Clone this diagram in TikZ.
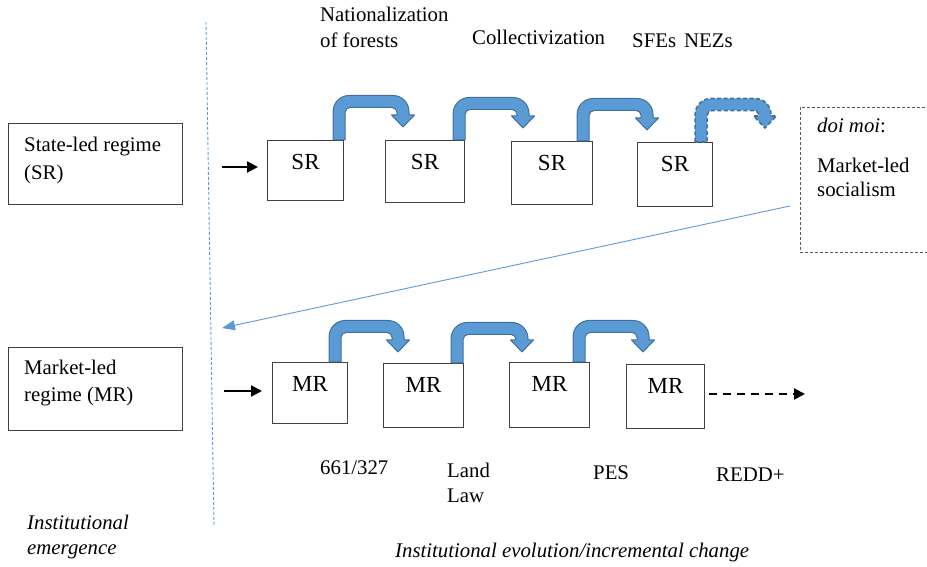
\documentclass[tikz,border=0pt]{standalone}
\usepackage{fontspec}
\setmainfont{Liberation Serif}
\usetikzlibrary{arrows.meta,calc}

\definecolor{arrfill}{HTML}{5B9BD5}
\definecolor{arredge}{HTML}{41719C}
\definecolor{boxline}{HTML}{404040}
\definecolor{dashgray}{HTML}{595959}

\tikzset{
  txt/.style={font=\fontsize{20.8}{25}\selectfont, inner sep=0pt, anchor=base west},
  itxt/.style={txt, font=\fontsize{20.8}{25}\selectfont\itshape},
  regbox/.style={draw=boxline, line width=1.1pt, inner sep=0pt, anchor=north west},
  stagebox/.style={draw=boxline, line width=1.1pt, inner sep=0pt, anchor=north west, fill=white},
  stagelbl/.style={font=\fontsize{23}{27}\selectfont, inner sep=0pt, anchor=base},
  bentarrow/.style={fill=arrfill, draw=arredge, line width=1pt, line join=round},
  bentdashed/.style={dash pattern=on 4pt off 2.5pt, line width=1.6pt},
  pusharrow/.style={-{Triangle[length=11pt,width=11pt]}, line width=2.2pt, draw=black},
  nextarrow/.style={pusharrow, dash pattern=on 8pt off 6pt, line width=2pt},
  feedback/.style={-{Triangle[length=13pt,width=10pt]}, draw=arrfill, line width=0.9pt},
  divider/.style={draw=arrfill, line width=0.9pt, dash pattern=on 3pt off 2pt},
  outerbox/.style={draw=dashgray, line width=0.9pt, dash pattern=on 3pt off 2pt, inner sep=0pt, anchor=north west}
}

% Bent block arrow from the top right of one stage box to just above the next.
% #1 extra style, #2 source node, #3 target point (north west of next box),
% #4 shaft inset from the source's right edge, #5 tip inset from the target's left edge,
% #6 height of the bar above the source top, #7 tip height above the target top.
% Shaft half width 6, outer corner radius 16, inner corner radius 5.
\newcommand{\stagearrow}[7][]{%
  \path[bentarrow,#1] let \p1=(#2.north east), \p2=(#3),
      \n1={\x1-#4}, \n2={\y1+#6}, \n3={\x2+#5}, \n4={\y2+#7}, \n5={\y1} in
    ({\n1-6},{\n5}) -- ({\n1-6},{\n2+6-16})
      .. controls ({\n1-6},{\n2+6-7.2}) and ({\n1-6+7.2},{\n2+6}) .. ({\n1-6+16},{\n2+6})
      -- ({\n3+6-16},{\n2+6})
      .. controls ({\n3+6-7.2},{\n2+6}) and ({\n3+6},{\n2+6-7.2}) .. ({\n3+6},{\n2+6-16})
      -- ({\n3+6},{\n4+12}) -- ({\n3+11.5},{\n4+12}) -- ({\n3},{\n4})
      -- ({\n3-11.5},{\n4+12}) -- ({\n3-6},{\n4+12})
      -- ({\n3-6},{\n2-6-5})
      .. controls ({\n3-6},{\n2-6-2.2}) and ({\n3-6-2.2},{\n2-6}) .. ({\n3-6-5},{\n2-6})
      -- ({\n1+6+5},{\n2-6})
      .. controls ({\n1+6+2.2},{\n2-6}) and ({\n1+6},{\n2-6-2.2}) .. ({\n1+6},{\n2-6-5})
      -- ({\n1+6},{\n5}) -- cycle;%
}

\begin{document}
\begin{tikzpicture}[x=1pt,y=1pt]
\useasboundingbox (0,0) rectangle (927,567);

% divider between emergence and evolution
\coordinate (divtop) at (206,545);
\coordinate (divbot) at (214,40);
\draw[divider] (divtop) -- (divbot);

% regime boxes
\node[regbox, minimum width=174pt, minimum height=81pt] (srreg) at (8,444) {};
\node[txt] (srreg1) at (24,415) {State-led regime};
\node[txt] (srreg2) at (24,387) {(SR)};

\node[regbox, minimum width=174pt, minimum height=83pt] (mrreg) at (8,220) {};
\node[txt] (mrreg1) at (24,192) {Market-led};
\node[txt] (mrreg2) at (24,165) {regime (MR)};

% state-led stages
\node[stagebox, minimum width=76pt, minimum height=60pt] (sr1) at (267,427) {};
\node[stagebox, minimum width=79pt, minimum height=62pt] (sr2) at (385,427) {};
\node[stagebox, minimum width=81pt, minimum height=63pt] (sr3) at (511,426) {};
\node[stagebox, minimum width=75pt, minimum height=64pt] (sr4) at (637,425) {};
\foreach \b in {sr1,sr2,sr3,sr4}
  \node[stagelbl] (\b lbl) at ([yshift=-30pt]\b.north) {SR};

% market-led stages
\node[stagebox, minimum width=75pt, minimum height=61pt] (mr1) at (272,205) {};
\node[stagebox, minimum width=80pt, minimum height=64pt] (mr2) at (383,204) {};
\node[stagebox, minimum width=80pt, minimum height=65pt] (mr3) at (509,205) {};
\node[stagebox, minimum width=78pt, minimum height=64pt] (mr4) at (626,203) {};
\foreach \b in {mr1,mr2,mr3,mr4}
  \node[stagelbl] (\b lbl) at ([yshift=-30pt]\b.north) {MR};

% doi moi box, running off the right edge
\node[outerbox, minimum width=140pt, minimum height=145pt] (doimoi) at (800,460) {};
\node[txt] (doimoi1) at (817,434) {\textit{doi moi}:};
\node[txt] (doimoi2) at (817,394) {Market-led};
\node[txt] (doimoi3) at (817,370) {socialism};

% entry arrows
\coordinate (srin) at (222,400);
\coordinate (mrin) at (224,176);
\draw[pusharrow] (srin) -- ($(srin -| sr1.west)+(-9,0)$);
\draw[pusharrow] (mrin) -- ($(mrin -| mr1.west)+(-10,0)$);

% continuation of the market-led path
\coordinate (mrnext) at (805,173);
\draw[nextarrow] ($(mrnext -| mr4.east)+(4,0)$) -- (mrnext);

% transition from doi moi back to the market-led regime
\coordinate (fbstart) at (790,361);
\coordinate (fbend) at (222,239);
\draw[feedback] (fbstart) -- (fbend);

% incremental changes between stages
\coordinate (srnext) at (749,426);
\stagearrow{sr1}{sr2.north west}{5}{18}{38.5}{13}
\stagearrow{sr2}{sr3.north west}{6}{12}{36.5}{13}
\stagearrow{sr3}{sr4.north west}{10}{10}{36.5}{12}
\stagearrow[bentdashed]{sr4}{srnext}{12}{16}{37.5}{13}
\stagearrow{mr1}{mr2.north west}{13}{15}{35.5}{11}
\stagearrow{mr2}{mr3.north west}{7}{13}{34.5}{10}
\stagearrow{mr3}{mr4.north west}{11}{17}{35.5}{12}

% event labels
\node[txt] (ev1a) at (320,545) {Nationalization};
\node[txt] (ev1b) at (320,519) {of forests};
\node[txt] (ev2) at (472,522) {Collectivization};
\node[txt] (ev3) at (632,519) {SFEs};
\node[txt] (ev4) at (684,519) {NEZs};

\node[txt] (ev5) at (320,92) {661/327};
\node[txt] (ev6a) at (447,89) {Land};
\node[txt] (ev6b) at (447,64) {Law};
\node[txt] (ev7) at (593,87) {PES};
\node[txt] (ev8) at (716,85) {REDD+};

% phase captions
\node[itxt] (cap1a) at (27,37) {Institutional};
\node[itxt] (cap1b) at (27,12) {emergence};
\node[itxt] (cap2) at (395,9) {Institutional evolution/incremental change};
\end{tikzpicture}
\end{document}
